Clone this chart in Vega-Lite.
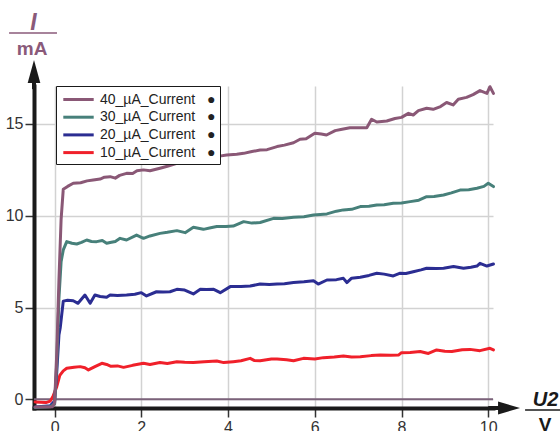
{
  "$schema": "https://vega.github.io/schema/vega-lite/v6.json",
  "width": 459,
  "height": 322,
  "autosize": {"type": "none"},
  "padding": {"left": 34, "top": 86, "right": 67, "bottom": 23},
  "background": "white",
  "config": {"view": {"stroke": null}, "font": "Liberation Sans"},
  "datasets": {
    "curves": [
      {"s": "10_µA_Current", "x": -0.45, "y": -0.15}, {"s": "10_µA_Current", "x": -0.2, "y": -0.18}, {"s": "10_µA_Current", "x": -0.1, "y": -0.1}, {"s": "10_µA_Current", "x": -0.03, "y": 0.2}, {"s": "10_µA_Current", "x": 0.05, "y": 0.69}, {"s": "10_µA_Current", "x": 0.12, "y": 1.3}, {"s": "10_µA_Current", "x": 0.2, "y": 1.55}, {"s": "10_µA_Current", "x": 0.28, "y": 1.69}, {"s": "10_µA_Current", "x": 0.45, "y": 1.75}, {"s": "10_µA_Current", "x": 0.59, "y": 1.78}, {"s": "10_µA_Current", "x": 0.7, "y": 1.72}, {"s": "10_µA_Current", "x": 0.78, "y": 1.6}, {"s": "10_µA_Current", "x": 0.93, "y": 1.78}, {"s": "10_µA_Current", "x": 1.09, "y": 1.96}, {"s": "10_µA_Current", "x": 1.2, "y": 1.9}, {"s": "10_µA_Current", "x": 1.3, "y": 1.8}, {"s": "10_µA_Current", "x": 1.45, "y": 1.82}, {"s": "10_µA_Current", "x": 1.59, "y": 1.74}, {"s": "10_µA_Current", "x": 1.8, "y": 1.85}, {"s": "10_µA_Current", "x": 2.05, "y": 1.96}, {"s": "10_µA_Current", "x": 2.2, "y": 1.9}, {"s": "10_µA_Current", "x": 2.43, "y": 2.0}, {"s": "10_µA_Current", "x": 2.6, "y": 1.95}, {"s": "10_µA_Current", "x": 2.82, "y": 2.05}, {"s": "10_µA_Current", "x": 3.0, "y": 2.02}, {"s": "10_µA_Current", "x": 3.2, "y": 2.0}, {"s": "10_µA_Current", "x": 3.45, "y": 2.05}, {"s": "10_µA_Current", "x": 3.74, "y": 2.09}, {"s": "10_µA_Current", "x": 3.9, "y": 2.0}, {"s": "10_µA_Current", "x": 4.12, "y": 2.05}, {"s": "10_µA_Current", "x": 4.3, "y": 2.1}, {"s": "10_µA_Current", "x": 4.51, "y": 2.23}, {"s": "10_µA_Current", "x": 4.6, "y": 2.12}, {"s": "10_µA_Current", "x": 4.74, "y": 2.1}, {"s": "10_µA_Current", "x": 5.0, "y": 2.2}, {"s": "10_µA_Current", "x": 5.13, "y": 2.2}, {"s": "10_µA_Current", "x": 5.35, "y": 2.15}, {"s": "10_µA_Current", "x": 5.51, "y": 2.1}, {"s": "10_µA_Current", "x": 5.74, "y": 2.23}, {"s": "10_µA_Current", "x": 6.0, "y": 2.2}, {"s": "10_µA_Current", "x": 6.2, "y": 2.27}, {"s": "10_µA_Current", "x": 6.45, "y": 2.3}, {"s": "10_µA_Current", "x": 6.66, "y": 2.36}, {"s": "10_µA_Current", "x": 6.85, "y": 2.3}, {"s": "10_µA_Current", "x": 7.05, "y": 2.32}, {"s": "10_µA_Current", "x": 7.3, "y": 2.38}, {"s": "10_µA_Current", "x": 7.51, "y": 2.41}, {"s": "10_µA_Current", "x": 7.75, "y": 2.4}, {"s": "10_µA_Current", "x": 7.93, "y": 2.41}, {"s": "10_µA_Current", "x": 8.0, "y": 2.54}, {"s": "10_µA_Current", "x": 8.2, "y": 2.55}, {"s": "10_µA_Current", "x": 8.43, "y": 2.6}, {"s": "10_µA_Current", "x": 8.62, "y": 2.5}, {"s": "10_µA_Current", "x": 8.81, "y": 2.69}, {"s": "10_µA_Current", "x": 9.0, "y": 2.62}, {"s": "10_µA_Current", "x": 9.16, "y": 2.6}, {"s": "10_µA_Current", "x": 9.4, "y": 2.7}, {"s": "10_µA_Current", "x": 9.58, "y": 2.72}, {"s": "10_µA_Current", "x": 9.81, "y": 2.65}, {"s": "10_µA_Current", "x": 10.04, "y": 2.78}, {"s": "10_µA_Current", "x": 10.12, "y": 2.69},

      {"s": "20_µA_Current", "x": -0.45, "y": -0.42}, {"s": "20_µA_Current", "x": -0.1, "y": -0.35}, {"s": "20_µA_Current", "x": 0.0, "y": -0.1}, {"s": "20_µA_Current", "x": 0.05, "y": 1.5}, {"s": "20_µA_Current", "x": 0.1, "y": 3.5}, {"s": "20_µA_Current", "x": 0.13, "y": 3.9}, {"s": "20_µA_Current", "x": 0.2, "y": 5.35}, {"s": "20_µA_Current", "x": 0.3, "y": 5.4}, {"s": "20_µA_Current", "x": 0.43, "y": 5.37}, {"s": "20_µA_Current", "x": 0.54, "y": 5.23}, {"s": "20_µA_Current", "x": 0.7, "y": 5.68}, {"s": "20_µA_Current", "x": 0.82, "y": 5.23}, {"s": "20_µA_Current", "x": 0.93, "y": 5.68}, {"s": "20_µA_Current", "x": 1.05, "y": 5.6}, {"s": "20_µA_Current", "x": 1.2, "y": 5.56}, {"s": "20_µA_Current", "x": 1.28, "y": 5.68}, {"s": "20_µA_Current", "x": 1.45, "y": 5.65}, {"s": "20_µA_Current", "x": 1.66, "y": 5.68}, {"s": "20_µA_Current", "x": 1.85, "y": 5.72}, {"s": "20_µA_Current", "x": 2.0, "y": 5.81}, {"s": "20_µA_Current", "x": 2.12, "y": 5.63}, {"s": "20_µA_Current", "x": 2.35, "y": 5.86}, {"s": "20_µA_Current", "x": 2.5, "y": 5.85}, {"s": "20_µA_Current", "x": 2.66, "y": 5.86}, {"s": "20_µA_Current", "x": 2.82, "y": 5.99}, {"s": "20_µA_Current", "x": 3.0, "y": 5.95}, {"s": "20_µA_Current", "x": 3.2, "y": 5.74}, {"s": "20_µA_Current", "x": 3.36, "y": 5.99}, {"s": "20_µA_Current", "x": 3.5, "y": 5.98}, {"s": "20_µA_Current", "x": 3.67, "y": 5.99}, {"s": "20_µA_Current", "x": 3.82, "y": 5.81}, {"s": "20_µA_Current", "x": 4.05, "y": 6.14}, {"s": "20_µA_Current", "x": 4.3, "y": 6.15}, {"s": "20_µA_Current", "x": 4.51, "y": 6.17}, {"s": "20_µA_Current", "x": 4.74, "y": 6.28}, {"s": "20_µA_Current", "x": 4.95, "y": 6.25}, {"s": "20_µA_Current", "x": 5.13, "y": 6.28}, {"s": "20_µA_Current", "x": 5.3, "y": 6.3}, {"s": "20_µA_Current", "x": 5.51, "y": 6.36}, {"s": "20_µA_Current", "x": 5.75, "y": 6.4}, {"s": "20_µA_Current", "x": 5.97, "y": 6.46}, {"s": "20_µA_Current", "x": 6.08, "y": 6.28}, {"s": "20_µA_Current", "x": 6.28, "y": 6.5}, {"s": "20_µA_Current", "x": 6.5, "y": 6.52}, {"s": "20_µA_Current", "x": 6.66, "y": 6.59}, {"s": "20_µA_Current", "x": 6.74, "y": 6.36}, {"s": "20_µA_Current", "x": 6.85, "y": 6.6}, {"s": "20_µA_Current", "x": 7.05, "y": 6.65}, {"s": "20_µA_Current", "x": 7.25, "y": 6.75}, {"s": "20_µA_Current", "x": 7.43, "y": 6.87}, {"s": "20_µA_Current", "x": 7.6, "y": 6.82}, {"s": "20_µA_Current", "x": 7.81, "y": 6.72}, {"s": "20_µA_Current", "x": 7.97, "y": 6.87}, {"s": "20_µA_Current", "x": 8.1, "y": 6.85}, {"s": "20_µA_Current", "x": 8.27, "y": 6.95}, {"s": "20_µA_Current", "x": 8.45, "y": 7.05}, {"s": "20_µA_Current", "x": 8.58, "y": 7.14}, {"s": "20_µA_Current", "x": 8.8, "y": 7.12}, {"s": "20_µA_Current", "x": 8.97, "y": 7.14}, {"s": "20_µA_Current", "x": 9.2, "y": 7.23}, {"s": "20_µA_Current", "x": 9.43, "y": 7.14}, {"s": "20_µA_Current", "x": 9.6, "y": 7.2}, {"s": "20_µA_Current", "x": 9.74, "y": 7.26}, {"s": "20_µA_Current", "x": 9.81, "y": 7.41}, {"s": "20_µA_Current", "x": 9.97, "y": 7.26}, {"s": "20_µA_Current", "x": 10.12, "y": 7.37},

      {"s": "30_µA_Current", "x": -0.45, "y": -0.45}, {"s": "30_µA_Current", "x": -0.1, "y": -0.4}, {"s": "30_µA_Current", "x": 0.0, "y": -0.25}, {"s": "30_µA_Current", "x": 0.05, "y": 2.0}, {"s": "30_µA_Current", "x": 0.1, "y": 5.5}, {"s": "30_µA_Current", "x": 0.15, "y": 7.5}, {"s": "30_µA_Current", "x": 0.2, "y": 8.14}, {"s": "30_µA_Current", "x": 0.28, "y": 8.59}, {"s": "30_µA_Current", "x": 0.4, "y": 8.5}, {"s": "30_µA_Current", "x": 0.51, "y": 8.46}, {"s": "30_µA_Current", "x": 0.62, "y": 8.55}, {"s": "30_µA_Current", "x": 0.74, "y": 8.68}, {"s": "30_µA_Current", "x": 0.85, "y": 8.6}, {"s": "30_µA_Current", "x": 0.97, "y": 8.59}, {"s": "30_µA_Current", "x": 1.1, "y": 8.65}, {"s": "30_µA_Current", "x": 1.2, "y": 8.5}, {"s": "30_µA_Current", "x": 1.28, "y": 8.54}, {"s": "30_µA_Current", "x": 1.4, "y": 8.6}, {"s": "30_µA_Current", "x": 1.51, "y": 8.77}, {"s": "30_µA_Current", "x": 1.66, "y": 8.68}, {"s": "30_µA_Current", "x": 1.89, "y": 8.95}, {"s": "30_µA_Current", "x": 2.05, "y": 8.77}, {"s": "30_µA_Current", "x": 2.2, "y": 8.9}, {"s": "30_µA_Current", "x": 2.43, "y": 9.04}, {"s": "30_µA_Current", "x": 2.6, "y": 9.1}, {"s": "30_µA_Current", "x": 2.82, "y": 9.19}, {"s": "30_µA_Current", "x": 3.01, "y": 9.08}, {"s": "30_µA_Current", "x": 3.2, "y": 9.37}, {"s": "30_µA_Current", "x": 3.43, "y": 9.26}, {"s": "30_µA_Current", "x": 3.6, "y": 9.35}, {"s": "30_µA_Current", "x": 3.74, "y": 9.41}, {"s": "30_µA_Current", "x": 3.95, "y": 9.42}, {"s": "30_µA_Current", "x": 4.12, "y": 9.44}, {"s": "30_µA_Current", "x": 4.36, "y": 9.68}, {"s": "30_µA_Current", "x": 4.55, "y": 9.6}, {"s": "30_µA_Current", "x": 4.74, "y": 9.63}, {"s": "30_µA_Current", "x": 5.05, "y": 9.86}, {"s": "30_µA_Current", "x": 5.25, "y": 9.85}, {"s": "30_µA_Current", "x": 5.51, "y": 9.92}, {"s": "30_µA_Current", "x": 5.75, "y": 9.95}, {"s": "30_µA_Current", "x": 5.97, "y": 10.04}, {"s": "30_µA_Current", "x": 6.28, "y": 10.1}, {"s": "30_µA_Current", "x": 6.5, "y": 10.25}, {"s": "30_µA_Current", "x": 6.66, "y": 10.32}, {"s": "30_µA_Current", "x": 6.85, "y": 10.35}, {"s": "30_µA_Current", "x": 7.05, "y": 10.5}, {"s": "30_µA_Current", "x": 7.25, "y": 10.52}, {"s": "30_µA_Current", "x": 7.43, "y": 10.59}, {"s": "30_µA_Current", "x": 7.6, "y": 10.6}, {"s": "30_µA_Current", "x": 7.81, "y": 10.68}, {"s": "30_µA_Current", "x": 8.0, "y": 10.7}, {"s": "30_µA_Current", "x": 8.2, "y": 10.77}, {"s": "30_µA_Current", "x": 8.4, "y": 10.85}, {"s": "30_µA_Current", "x": 8.58, "y": 11.04}, {"s": "30_µA_Current", "x": 8.75, "y": 11.05}, {"s": "30_µA_Current", "x": 8.97, "y": 11.13}, {"s": "30_µA_Current", "x": 9.15, "y": 11.25}, {"s": "30_µA_Current", "x": 9.35, "y": 11.4}, {"s": "30_µA_Current", "x": 9.55, "y": 11.42}, {"s": "30_µA_Current", "x": 9.74, "y": 11.5}, {"s": "30_µA_Current", "x": 9.9, "y": 11.6}, {"s": "30_µA_Current", "x": 10.0, "y": 11.77}, {"s": "30_µA_Current", "x": 10.12, "y": 11.59},

      {"s": "40_µA_Current", "x": -0.45, "y": -0.42}, {"s": "40_µA_Current", "x": -0.2, "y": -0.42}, {"s": "40_µA_Current", "x": -0.05, "y": -0.4}, {"s": "40_µA_Current", "x": 0.0, "y": -0.2}, {"s": "40_µA_Current", "x": 0.05, "y": 2.5}, {"s": "40_µA_Current", "x": 0.1, "y": 6.5}, {"s": "40_µA_Current", "x": 0.15, "y": 9.8}, {"s": "40_µA_Current", "x": 0.2, "y": 11.45}, {"s": "40_µA_Current", "x": 0.3, "y": 11.6}, {"s": "40_µA_Current", "x": 0.43, "y": 11.77}, {"s": "40_µA_Current", "x": 0.6, "y": 11.8}, {"s": "40_µA_Current", "x": 0.75, "y": 11.9}, {"s": "40_µA_Current", "x": 0.89, "y": 11.95}, {"s": "40_µA_Current", "x": 1.05, "y": 12.0}, {"s": "40_µA_Current", "x": 1.15, "y": 12.1}, {"s": "40_µA_Current", "x": 1.28, "y": 12.13}, {"s": "40_µA_Current", "x": 1.4, "y": 12.05}, {"s": "40_µA_Current", "x": 1.5, "y": 12.2}, {"s": "40_µA_Current", "x": 1.66, "y": 12.31}, {"s": "40_µA_Current", "x": 1.8, "y": 12.3}, {"s": "40_µA_Current", "x": 1.9, "y": 12.45}, {"s": "40_µA_Current", "x": 2.05, "y": 12.5}, {"s": "40_µA_Current", "x": 2.2, "y": 12.45}, {"s": "40_µA_Current", "x": 2.43, "y": 12.59}, {"s": "40_µA_Current", "x": 2.6, "y": 12.7}, {"s": "40_µA_Current", "x": 2.82, "y": 12.86}, {"s": "40_µA_Current", "x": 3.0, "y": 12.9}, {"s": "40_µA_Current", "x": 3.2, "y": 13.0}, {"s": "40_µA_Current", "x": 3.4, "y": 13.05}, {"s": "40_µA_Current", "x": 3.59, "y": 13.22}, {"s": "40_µA_Current", "x": 3.8, "y": 13.25}, {"s": "40_µA_Current", "x": 3.97, "y": 13.31}, {"s": "40_µA_Current", "x": 4.2, "y": 13.35}, {"s": "40_µA_Current", "x": 4.36, "y": 13.4}, {"s": "40_µA_Current", "x": 4.55, "y": 13.5}, {"s": "40_µA_Current", "x": 4.74, "y": 13.58}, {"s": "40_µA_Current", "x": 4.9, "y": 13.6}, {"s": "40_µA_Current", "x": 5.13, "y": 13.77}, {"s": "40_µA_Current", "x": 5.3, "y": 13.85}, {"s": "40_µA_Current", "x": 5.51, "y": 13.98}, {"s": "40_µA_Current", "x": 5.66, "y": 14.17}, {"s": "40_µA_Current", "x": 5.8, "y": 14.2}, {"s": "40_µA_Current", "x": 6.0, "y": 14.5}, {"s": "40_µA_Current", "x": 6.15, "y": 14.45}, {"s": "40_µA_Current", "x": 6.27, "y": 14.4}, {"s": "40_µA_Current", "x": 6.47, "y": 14.64}, {"s": "40_µA_Current", "x": 6.6, "y": 14.7}, {"s": "40_µA_Current", "x": 6.81, "y": 14.8}, {"s": "40_µA_Current", "x": 7.0, "y": 14.8}, {"s": "40_µA_Current", "x": 7.2, "y": 14.8}, {"s": "40_µA_Current", "x": 7.31, "y": 15.26}, {"s": "40_µA_Current", "x": 7.43, "y": 15.11}, {"s": "40_µA_Current", "x": 7.66, "y": 15.16}, {"s": "40_µA_Current", "x": 7.85, "y": 15.3}, {"s": "40_µA_Current", "x": 8.0, "y": 15.36}, {"s": "40_µA_Current", "x": 8.16, "y": 15.58}, {"s": "40_µA_Current", "x": 8.27, "y": 15.49}, {"s": "40_µA_Current", "x": 8.39, "y": 15.73}, {"s": "40_µA_Current", "x": 8.58, "y": 15.86}, {"s": "40_µA_Current", "x": 8.73, "y": 15.8}, {"s": "40_µA_Current", "x": 8.9, "y": 15.95}, {"s": "40_µA_Current", "x": 9.04, "y": 16.17}, {"s": "40_µA_Current", "x": 9.19, "y": 16.04}, {"s": "40_µA_Current", "x": 9.31, "y": 16.35}, {"s": "40_µA_Current", "x": 9.5, "y": 16.45}, {"s": "40_µA_Current", "x": 9.65, "y": 16.6}, {"s": "40_µA_Current", "x": 9.81, "y": 16.82}, {"s": "40_µA_Current", "x": 9.97, "y": 16.67}, {"s": "40_µA_Current", "x": 10.04, "y": 17.03}, {"s": "40_µA_Current", "x": 10.12, "y": 16.67}
    ]
  },
  "encoding": {
    "x": {
      "field": "x", "type": "quantitative",
      "scale": {"domain": [-0.475, 10.11], "nice": false, "zero": false},
      "axis": {
        "title": null, "values": [0, 2, 4, 6, 8, 10],
        "grid": true, "gridColor": "#d2d2d2", "gridWidth": 1.5,
        "domainColor": "#1a1a1a", "domainWidth": 4, "domainCap": "square",
        "tickColor": "#333333", "tickWidth": 1.5, "tickSize": 9,
        "labelFont": "Liberation Sans", "labelFontSize": 16, "labelColor": "#333333", "labelPadding": 2
      }
    },
    "y": {
      "field": "y", "type": "quantitative",
      "scale": {"domain": [-0.474, 17.07], "nice": false, "zero": false},
      "axis": {
        "title": null, "values": [0, 5, 10, 15],
        "grid": true, "gridColor": "#d2d2d2", "gridWidth": 1.5,
        "domainColor": "#1a1a1a", "domainWidth": 4, "domainCap": "square",
        "tickColor": "#333333", "tickWidth": 1.5, "tickSize": 9,
        "labelFont": "Liberation Sans", "labelFontSize": 16, "labelColor": "#333333", "labelPadding": 2
      }
    }
  },
  "layer": [
    {
      "data": {"values": [{"x": -0.475, "x2": 10.11, "y": 0}]},
      "mark": {"type": "rule", "color": "#7b627a", "strokeWidth": 2},
      "encoding": {"x2": {"field": "x2"}}
    },
    {
      "data": {"name": "curves"},
      "mark": {"type": "line", "strokeWidth": 3, "strokeJoin": "round", "strokeCap": "round"},
      "encoding": {
        "color": {
          "field": "s", "type": "nominal",
          "scale": {
            "domain": ["40_µA_Current", "30_µA_Current", "20_µA_Current", "10_µA_Current"],
            "range": ["#8a5876", "#47807a", "#2b2d92", "#f0202a"]
          },
          "legend": {
            "title": null, "orient": "none", "legendX": 22, "legendY": 0,
            "fillColor": "white", "strokeColor": "#1a1a1a",
            "padding": 4, "rowPadding": 0.7,
            "symbolType": "M-1.9,0L1.9,0", "symbolSize": 256, "symbolStrokeWidth": 3, "symbolOffset": 9,
            "labelFont": "Liberation Sans", "labelFontSize": 14, "labelColor": "#222222", "labelOffset": 12,
            "labelExpr": "datum.label + '\u00a0\u00a0\u00a0\u25cf\u00a0'"
          }
        }
      }
    },
    {
      "data": {"values": [{"x": 10.0, "x2": 10.3, "y": -0.474}]},
      "mark": {"type": "rule", "color": "#1a1a1a", "strokeWidth": 4},
      "encoding": {"x2": {"field": "x2"}}
    },
    {
      "data": {"values": [{"x": -0.475, "y": 16.9, "y2": 17.3}]},
      "mark": {"type": "rule", "color": "#1a1a1a", "strokeWidth": 4},
      "encoding": {"y2": {"field": "y2"}}
    },
    {
      "data": {"values": [{"x": 10.48, "y": -0.474}]},
      "mark": {"type": "point", "shape": "M-1,-0.6L1,0L-1,0.6Z", "size": 484, "filled": true, "color": "#1a1a1a", "opacity": 1, "strokeWidth": 0}
    },
    {
      "data": {"values": [{"x": -0.475, "y": 17.86}]},
      "mark": {"type": "point", "shape": "M-0.55,1L0,-1L0.55,1Z", "size": 529, "filled": true, "color": "#1a1a1a", "opacity": 1, "strokeWidth": 0}
    },
    {
      "data": {"values": [{"x": -1.05, "x2": 0.055, "y": 19.96}]},
      "mark": {"type": "rule", "color": "#8a5a7a", "strokeWidth": 1.5},
      "encoding": {"x2": {"field": "x2"}}
    },
    {
      "data": {"values": [{"x": 10.85, "x2": 11.66, "y": -0.58}]},
      "mark": {"type": "rule", "color": "#1a1a1a", "strokeWidth": 1.5},
      "encoding": {"x2": {"field": "x2"}}
    },
    {
      "data": {"values": [{"x": -0.487, "y": 20.13, "t": "I"}]},
      "mark": {"type": "text", "font": "Liberation Sans", "fontSize": 23, "fontWeight": "bold", "fontStyle": "italic", "color": "#8a5a7a", "align": "center", "baseline": "alphabetic"},
      "encoding": {"text": {"field": "t"}}
    },
    {
      "data": {"values": [{"x": -0.52, "y": 18.76, "t": "mA"}]},
      "mark": {"type": "text", "font": "Liberation Sans", "fontSize": 19, "fontWeight": "bold", "color": "#8a5a7a", "align": "center", "baseline": "alphabetic"},
      "encoding": {"text": {"field": "t"}}
    },
    {
      "data": {"values": [{"x": 11.32, "y": -0.365, "t": "U2"}]},
      "mark": {"type": "text", "font": "Liberation Sans", "fontSize": 20, "fontWeight": "bold", "fontStyle": "italic", "color": "#1a1a1a", "align": "center", "baseline": "alphabetic"},
      "encoding": {"text": {"field": "t"}}
    },
    {
      "data": {"values": [{"x": 11.31, "y": -1.72, "t": "V"}]},
      "mark": {"type": "text", "font": "Liberation Sans", "fontSize": 19, "fontWeight": "bold", "color": "#1a1a1a", "align": "center", "baseline": "alphabetic"},
      "encoding": {"text": {"field": "t"}}
    }
  ]
}
